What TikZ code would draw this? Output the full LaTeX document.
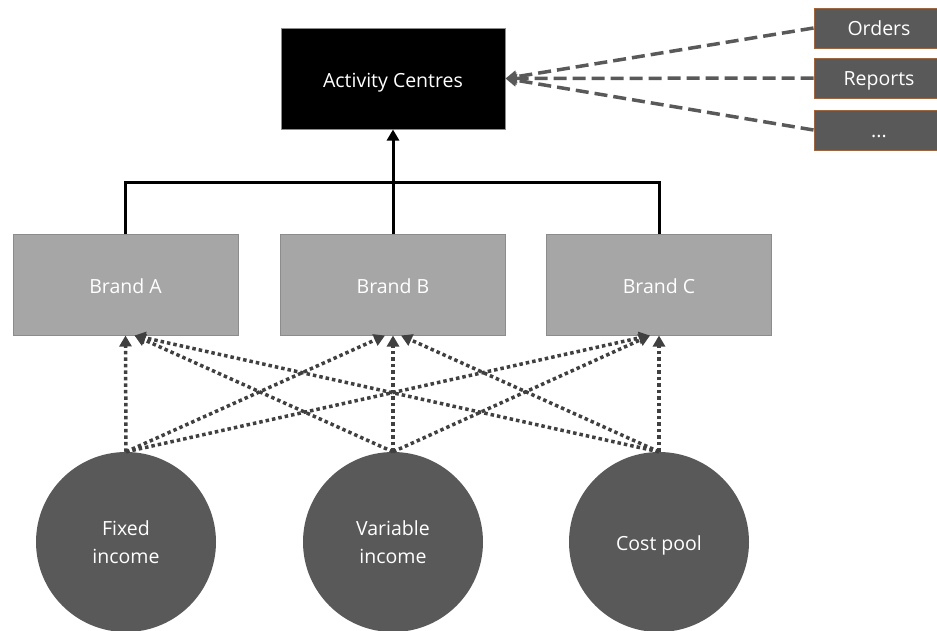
\documentclass[tikz,border=0pt]{standalone}
\usepackage{fontspec}
\setmainfont{Open Sans}
\usetikzlibrary{arrows.meta}
\definecolor{dgray}{HTML}{595959}
\definecolor{lgray}{HTML}{A6A6A6}
\definecolor{bgray}{HTML}{8C8C8C}
\definecolor{lgrey2}{HTML}{404040}
\definecolor{orng}{HTML}{C55A11}
\tikzset{
  x=1pt, y=-1pt,
  lowtext/.style={text height=18pt, text depth=1pt},
  centre/.style={draw=bgray, line width=1pt, fill=black, text=white, minimum width=224pt, minimum height=101pt, inner sep=0pt, lowtext, font=\fontsize{19.5}{22}\selectfont},
  brand/.style={draw=bgray, line width=1pt, fill=lgray, text=white, minimum width=225pt, minimum height=101pt, inner sep=0pt, lowtext, font=\fontsize{19.5}{22}\selectfont},
  srcbox/.style={draw=orng, line width=1pt, fill=dgray, text=white, minimum width=130pt, minimum height=40pt, inner sep=0pt, text height=16pt, text depth=2pt, font=\fontsize{19.5}{22}\selectfont},
  pool/.style={circle, fill=dgray, text=white, minimum size=180pt, inner sep=0pt, align=center, font=\fontsize{19.5}{28}\selectfont},
  solidarrow/.style={line width=3pt, black, -{Triangle[length=11pt,width=12pt]}},
  solidline/.style={line width=3pt, black},
  dashedarrow/.style={line width=3.5pt, dgray, dash pattern=on 13pt off 6pt, -{Triangle[length=11pt,width=12pt]}},
  dotarrow/.style={line width=3.5pt, lgrey2, dash pattern=on 3.5pt off 3pt, -{Triangle[length=11pt,width=12pt]}},
}
\begin{document}
\begin{tikzpicture}
\useasboundingbox (0,0) rectangle (937,630);
\node[centre] (ac) at (393,78.5) {Activity Centres};
\node[srcbox] (o) at (879,28) {Orders};
\node[srcbox] (r) at (879,78) {Reports};
\node[srcbox] (d) at (879,130) {...};
\node[brand] (a) at (125.5,284.5) {Brand A};
\node[brand] (b) at (393,284.5) {Brand B};
\node[brand] (c) at (659,284.5) {Brand C};
\node[pool] (f) at (126,542) {Fixed\\income};
\node[pool] (v) at (393,542) {Variable\\income};
\node[pool, lowtext] (p) at (659,542) {Cost pool};
% dashed sources
\draw[dashedarrow] (o.west) -- (ac.east);
\draw[dashedarrow] (r.west) -- (ac.east);
\draw[dashedarrow] (d.west) -- (ac.east);
% solid tree
\coordinate (j) at (393,182);
\draw[solidline] (a.north) |- (j);
\draw[solidline] (c.north) |- (j);
\draw[solidarrow] (b.north) -- (ac.south);
% dotted
\draw[dotarrow] (f.north) -- (a.south);
\draw[dotarrow] (f.north) -- ([xshift=-8pt]b.south);
\draw[dotarrow] (f.north) -- ([xshift=-9pt]c.south);
\draw[dotarrow] (v.north) -- ([xshift=9pt]a.south);
\draw[dotarrow] (v.north) -- (b.south);
\draw[dotarrow] (v.north) -- ([xshift=-9pt]c.south);
\draw[dotarrow] (p.north) -- ([xshift=9pt]a.south);
\draw[dotarrow] (p.north) -- ([xshift=8pt]b.south);
\draw[dotarrow] (p.north) -- (c.south);
\end{tikzpicture}
\end{document}
